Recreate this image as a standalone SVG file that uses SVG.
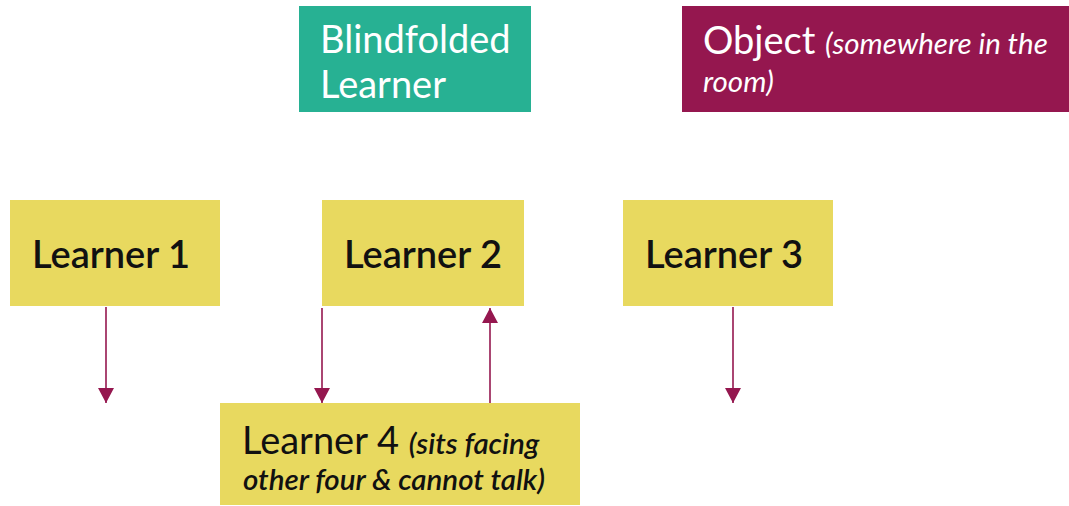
<svg xmlns="http://www.w3.org/2000/svg" width="1069" height="506" viewBox="0 0 1069 506">
<defs>
<style>
.t{font-family:Lato,"Open Sans","Liberation Sans",sans-serif}
.yel{fill:#e8d95f}
.lbl{font-size:38px;font-weight:600;fill:#111111}
.wh{fill:#ffffff}
.it{font-style:italic;font-size:29.5px;font-weight:600}
.itl{font-style:italic;font-size:29.5px;font-weight:normal}
.conn{stroke:#95174f;stroke-width:1.6;fill:none}
</style>
<marker id="ah" viewBox="0 0 15 16" refX="15" refY="8" markerWidth="15" markerHeight="16" markerUnits="userSpaceOnUse" orient="auto">
<path d="M0,0 L15,8 L0,16 Z" fill="#95174f"/>
</marker>
</defs>
<rect width="1069" height="506" fill="#ffffff"/>
<g id="blindfolded">
<rect x="299" y="6" width="232" height="106" fill="#27b193"/>
<text class="t wh" x="320" y="53" font-size="38">Blindfolded</text>
<text class="t wh" x="320" y="98" font-size="38">Learner</text>
</g>
<g id="object">
<rect x="682" y="6" width="387" height="106" fill="#95174f"/>
<text class="t wh" x="703" y="54" font-size="38">Object <tspan class="itl">(somewhere in the</tspan></text>
<text class="t wh itl" x="703" y="92">room)</text>
</g>
<g id="learner1">
<rect class="yel" x="10" y="200" width="210" height="106"/>
<text class="t lbl" x="32" y="268">Learner 1</text>
</g>
<g id="learner2">
<rect class="yel" x="322" y="200" width="202" height="106"/>
<text class="t lbl" x="344" y="268">Learner 2</text>
</g>
<g id="learner3">
<rect class="yel" x="623" y="200" width="210" height="106"/>
<text class="t lbl" x="645" y="268">Learner 3</text>
</g>
<g id="learner4">
<rect class="yel" x="220" y="403" width="360" height="102"/>
<text class="t" x="242" y="454" font-size="38" fill="#111111">Learner 4 <tspan class="it">(sits facing</tspan></text>
<text class="t it" x="243" y="490" fill="#111111">other four &amp; cannot talk)</text>
</g>
<g id="connectors">
<path class="conn" d="M106,307 V403" marker-end="url(#ah)"/>
<path class="conn" d="M322,308 V403" marker-end="url(#ah)"/>
<path class="conn" d="M490,403 V308" marker-end="url(#ah)"/>
<path class="conn" d="M733,307 V403" marker-end="url(#ah)"/>
</g>
</svg>
